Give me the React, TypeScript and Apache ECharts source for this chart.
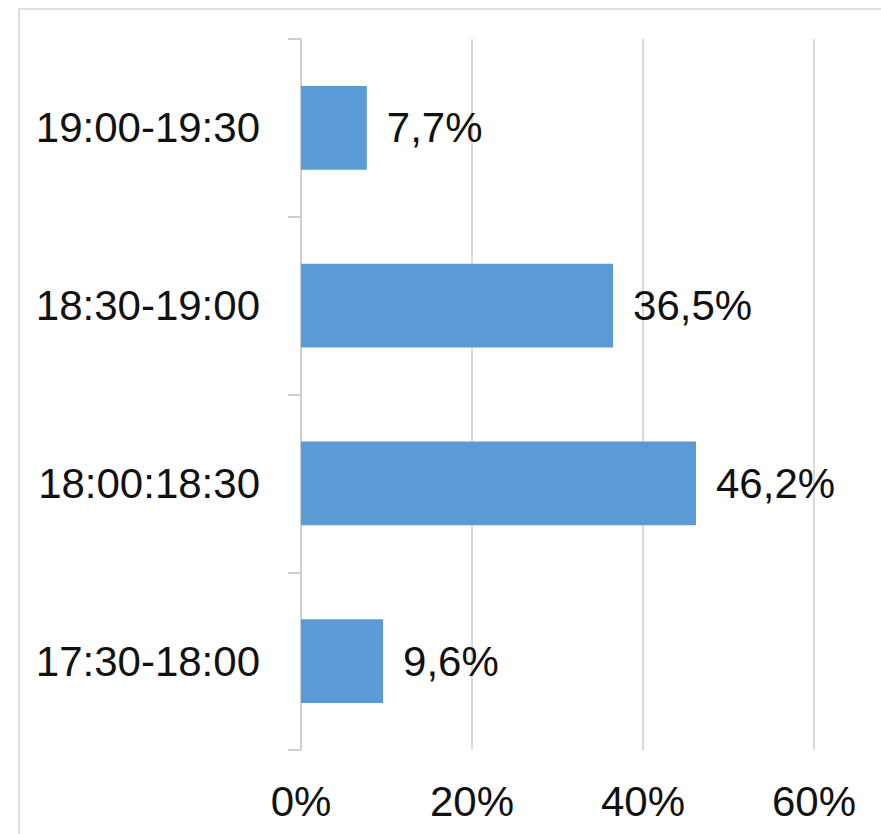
import React, { useEffect, useRef } from "react";
import * as echarts from "echarts";

const categories = ["17:30-18:00", "18:00:18:30", "18:30-19:00", "19:00-19:30"];
const values = [9.6, 46.2, 36.5, 7.7];
const xTicks = [0, 20, 40, 60];

const FONT = "'Liberation Sans', Arial, sans-serif";
const FS = 42;

export default function App() {
  const ref = useRef<HTMLDivElement>(null);
  useEffect(() => {
    document.body.style.margin = "0";
    const chart = echarts.init(ref.current!, null, { renderer: "svg" });
    chart.setOption({
      animation: false,
      backgroundColor: "#ffffff",
      graphic: [
        {
          type: "rect",
          shape: { x: 19, y: 9, width: 900, height: 900 },
          style: { fill: "none", stroke: "#dedede", lineWidth: 2 },
          silent: true,
        },
      ],
      grid: {
        left: 301,
        right: 67,
        top: 39,
        bottom: 84,
        containLabel: false,
        outerBoundsMode: "none",
      },
      xAxis: {
        type: "value",
        min: xTicks[0],
        max: xTicks[xTicks.length - 1],
        interval: 20,
        axisLine: { show: false },
        axisTick: { show: false },
        splitLine: { show: true, lineStyle: { color: "#dadada", width: 2 } },
        axisLabel: {
          formatter: (v: number) => `${v}%`,
          fontFamily: FONT,
          fontSize: FS,
          color: "#111111",
          margin: 30,
        },
      },
      yAxis: {
        type: "category",
        data: categories,
        axisLine: { show: true, lineStyle: { color: "#cfcfcf", width: 2 } },
        axisTick: { show: true, length: 13, lineStyle: { color: "#cfcfcf", width: 2 } },
        splitLine: { show: false },
        axisLabel: {
          fontFamily: FONT,
          fontSize: FS,
          color: "#111111",
          margin: 41,
        },
      },
      series: [
        {
          type: "bar",
          data: values,
          barWidth: "47%",
          itemStyle: { color: "#5b9bd5" },
          label: {
            show: true,
            position: "right",
            distance: 20,
            formatter: (p: any) => `${String(p.value).replace(".", ",")}%`,
            fontFamily: FONT,
            fontSize: FS,
            color: "#111111",
          },
        },
      ],
    });
    return () => chart.dispose();
  }, []);
  return <div ref={ref} style={{ width: 881, height: 834 }} />;
}
